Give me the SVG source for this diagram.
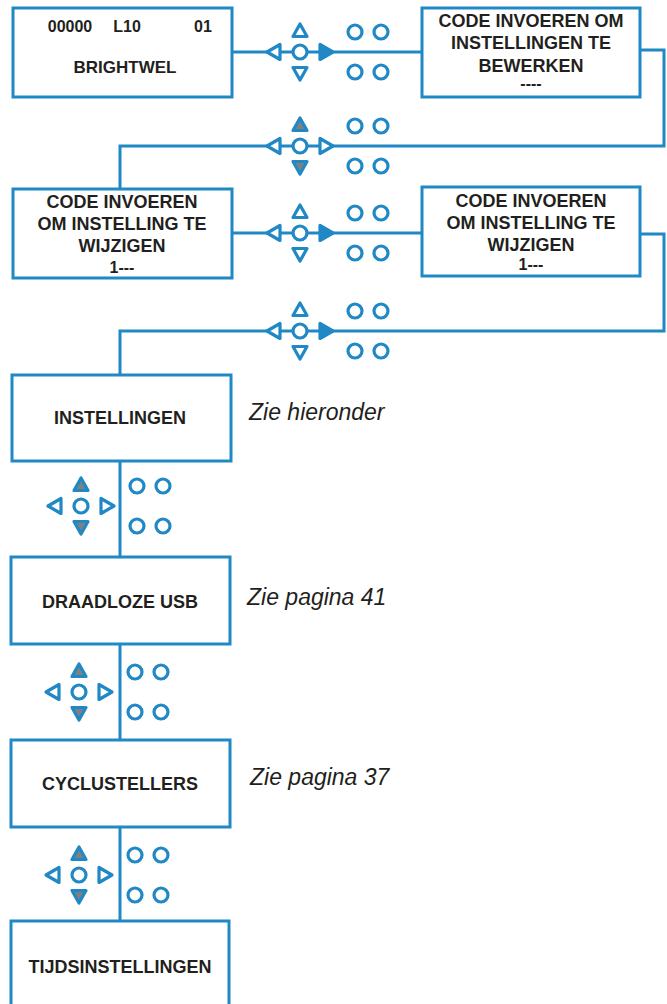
<svg xmlns="http://www.w3.org/2000/svg" width="667" height="1004" viewBox="0 0 667 1004">
<style>
.box{fill:#fff;stroke:#2188c6;stroke-width:3}
.ln{fill:none;stroke:#2188c6;stroke-width:3}
.o{fill:#fff;stroke:#2188c6;stroke-width:3.2;stroke-linejoin:round}
.f{fill:#2188c6;stroke:#2188c6;stroke-width:3.2;stroke-linejoin:round}
.g{fill:#808080;stroke:#2188c6;stroke-width:3.2;stroke-linejoin:round}
.t{font-family:"Liberation Sans",Arial,sans-serif;font-weight:bold;font-size:18px;fill:#231f20;text-anchor:middle}
.s{font-size:16px}
.i{font-family:"Liberation Sans",Arial,sans-serif;font-style:italic;font-size:23px;fill:#231f20}
</style>
<defs>
<circle id="c" r="7" class="o"/>
<g id="pair"><use href="#c" x="0" y="-20"/><use href="#c" x="26" y="-20"/><use href="#c" x="0" y="20"/><use href="#c" x="26" y="20"/></g>
<path id="L" d="M-33,0 L-20,-7.5 L-20,7.5 Z"/>
<path id="R" d="M33,0 L20,-7.5 L20,7.5 Z"/>
<path id="U" d="M0,-28 L-7,-15.5 L7,-15.5 Z"/>
<path id="D" d="M0,28 L-7,15.5 L7,15.5 Z"/>
</defs>
<g id="connectors">
<path class="ln" d="M232,52 H422"/>
<path class="ln" d="M640,50 H664 V146 H120 V189"/>
<path class="ln" d="M232,233 H422"/>
<path class="ln" d="M640,234 H664 V331 H120 V375"/>
<path class="ln" d="M120,461 V557"/>
<path class="ln" d="M120,644 V740"/>
<path class="ln" d="M120,827 V921"/>
</g>
<g id="n1"><rect class="box" x="13" y="8" width="219" height="89"/>
<text class="t s" x="70" y="32">00000</text><text class="t s" x="127" y="32">L10</text><text class="t s" x="203" y="32">01</text>
<text class="t" style="font-size:17px" x="125" y="73">BRIGHTWEL</text></g>
<g id="n2"><rect class="box" x="422" y="8" width="218" height="89"/>
<text class="t" x="531" y="27">CODE INVOEREN OM</text><text class="t" x="531" y="49">INSTELLINGEN TE</text><text class="t" x="531" y="72">BEWERKEN</text><text class="t s" x="531" y="89">----</text></g>
<g id="n3"><rect class="box" x="13" y="189" width="219" height="89"/>
<text class="t" x="122" y="208">CODE INVOEREN</text><text class="t" x="122" y="230">OM INSTELLING TE</text><text class="t" x="122" y="252">WIJZIGEN</text><text class="t s" x="122" y="273">1---</text></g>
<g id="n4"><rect class="box" x="422" y="187" width="218" height="89"/>
<text class="t" x="531" y="207">CODE INVOEREN</text><text class="t" x="531" y="229">OM INSTELLING TE</text><text class="t" x="531" y="251">WIJZIGEN</text><text class="t s" x="531" y="270">1---</text></g>
<g id="n5"><rect class="box" x="12" y="375" width="219" height="86"/><text class="t" x="120" y="424">INSTELLINGEN</text></g>
<g id="n6"><rect class="box" x="11" y="557" width="219" height="87"/><text class="t" x="120" y="608">DRAADLOZE USB</text></g>
<g id="n7"><rect class="box" x="11" y="740" width="219" height="87"/><text class="t" x="120" y="790">CYCLUSTELLERS</text></g>
<g id="n8"><rect class="box" x="11" y="921" width="218" height="100"/><text class="t" x="120" y="973">TIJDSINSTELLINGEN</text></g>
<g id="k1" transform="translate(300,52)"><use href="#L" class="o"/><use href="#R" class="f"/><use href="#U" class="o"/><use href="#D" class="o"/><use href="#c"/><use href="#pair" x="55"/></g>
<g id="k2" transform="translate(300,146)"><use href="#L" class="o"/><use href="#R" class="o"/><use href="#U" class="g"/><use href="#D" class="g"/><use href="#c"/><use href="#pair" x="55"/></g>
<g id="k3" transform="translate(300,233)"><use href="#L" class="o"/><use href="#R" class="f"/><use href="#U" class="o"/><use href="#D" class="o"/><use href="#c"/><use href="#pair" x="55"/></g>
<g id="k4" transform="translate(300,331)"><use href="#L" class="o"/><use href="#R" class="f"/><use href="#U" class="o"/><use href="#D" class="o"/><use href="#c"/><use href="#pair" x="55"/></g>
<g id="k5" transform="translate(81,506)"><use href="#L" class="o"/><use href="#R" class="o"/><use href="#U" class="g"/><use href="#D" class="g"/><use href="#c"/><use href="#pair" x="56" y="0"/></g>
<g id="k6" transform="translate(79,692)"><use href="#L" class="o"/><use href="#R" class="o"/><use href="#U" class="g"/><use href="#D" class="g"/><use href="#c"/><use href="#pair" x="56" y="0"/></g>
<g id="k7" transform="translate(79,875)"><use href="#L" class="o"/><use href="#R" class="o"/><use href="#U" class="g"/><use href="#D" class="g"/><use href="#c"/><use href="#pair" x="56" y="0"/></g>
<text class="i" x="249" y="420">Zie hieronder</text>
<text class="i" x="247" y="605">Zie pagina 41</text>
<text class="i" x="250" y="785">Zie pagina 37</text>
</svg>
